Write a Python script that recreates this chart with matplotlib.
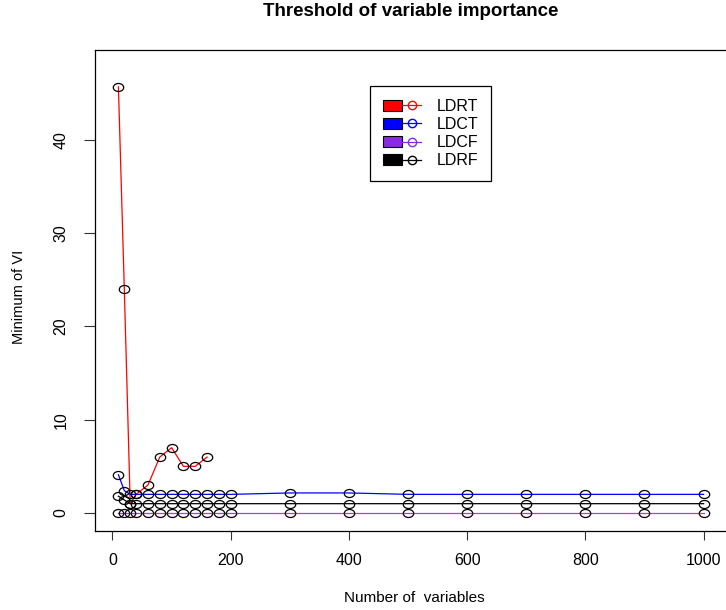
import numpy as np
import matplotlib
matplotlib.use("Agg")
import matplotlib.pyplot as plt
from matplotlib.path import Path
from matplotlib.transforms import Affine2D
from matplotlib.patches import Patch
from matplotlib.lines import Line2D
from matplotlib.legend_handler import HandlerTuple

plt.rcParams['font.family'] = ['Liberation Sans', 'DejaVu Sans']

# number of variables kept
n_vars = [10, 20, 30, 40, 60, 80, 100, 120, 140, 160, 180, 200,
          300, 400, 500, 600, 700, 800, 900, 1000]
n_vars_ldrt = [10, 20, 30, 40, 60, 80, 100, 120, 140, 160]

# minimum of VI per method
ldrt = [45.7, 24.0, 1.0, 2.0, 3.0, 6.0, 7.0, 5.0, 5.0, 6.0]
ldct = [4.1, 2.4, 2.0, 2.0, 2.0, 2.0, 2.0, 2.0, 2.0, 2.0, 2.0, 2.0,
        2.15, 2.15, 2.0, 2.0, 2.0, 2.0, 2.0, 2.0]
ldcf = [0.0] * 20
ldrf = [1.8, 1.4, 1.0, 1.0, 1.0, 1.0, 1.0, 1.0, 1.0, 1.0, 1.0, 1.0,
        1.0, 1.0, 1.0, 1.0, 1.0, 1.0, 1.0, 1.0]

labels = ["LDRT", "LDCT", "LDCF", "LDRF"]
colors = ["#FF0000", "#0000FF", "#8A2BE2", "#000000"]

# slightly wide open circle, like the stretched R output
ell = Path.unit_circle().transformed(Affine2D().scale(1.3, 1.0))

fig = plt.figure(figsize=(7.26, 6.10), dpi=100)
ax = fig.add_axes([95/726, 1 - 531/610, 632/726, 481/610])

series = [(n_vars_ldrt, ldrt), (n_vars, ldct), (n_vars, ldcf), (n_vars, ldrf)]
line_cols = ["#FF0000", "#0000FF", "#A040F0", "#000000"]
for (xs, ys), c in zip(series, line_cols):
    ax.plot(xs, ys, color=c, lw=0.9, zorder=2)
for xs, ys in series:
    ax.plot(xs, ys, ls='none', marker=ell, ms=7.5, mfc='none', mec='black',
            mew=0.9, zorder=3)

ax.set_xlim(-29.6, 1039.6)
ax.set_ylim(-1.93, 49.65)
ax.set_xticks([0, 200, 400, 600, 800, 1000])
ax.set_yticks([0, 10, 20, 30, 40])
ax.tick_params(axis='both', width=0.8, labelsize=11.5, color='#333333')
ax.tick_params(axis='x', length=6.5, pad=9)
ax.tick_params(axis='y', length=8, pad=11)
for lab in ax.get_yticklabels():
    lab.set_rotation(90)
    lab.set_va('center')
for sp in ax.spines.values():
    sp.set_linewidth(0.9)
    sp.set_color('black')

ax.set_xlabel("Number of  variables", fontsize=11)
ax.set_ylabel("Minimum of VI", fontsize=10.5)
ax.xaxis.set_label_coords(0.505, -0.125)
ax.yaxis.set_label_coords(-0.109, 0.486)
fig.text(411/726, 1 - 12/610, "Threshold of variable importance",
         ha='center', va='center', fontsize=13.5, fontweight='bold')

handles = [(Patch(facecolor=c, edgecolor='black', lw=0.8),
            Line2D([], [], color=c, lw=0.9, marker='o', ms=6, mfc='none', mec=c))
           for c in colors]
leg = ax.legend(handles, labels, handler_map={tuple: HandlerTuple(ndivide=None, pad=0)},
                loc='upper left', bbox_to_anchor=((370 - 95)/632, (531 - 86)/481),
                borderaxespad=0, fontsize=11.5, frameon=True, fancybox=False,
                edgecolor='black', framealpha=1, handlelength=2.4,
                handletextpad=1.0, labelspacing=0.2, borderpad=0.8)
leg.get_frame().set_linewidth(0.9)

fig.savefig("out.png", dpi=100)
